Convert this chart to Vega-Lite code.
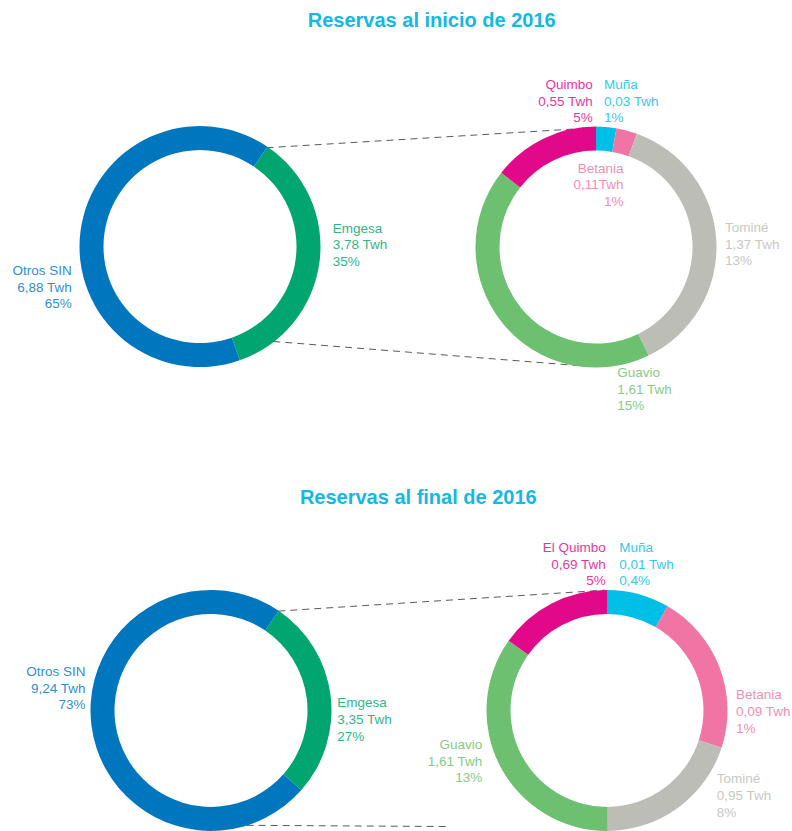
{
  "$schema": "https://vega.github.io/schema/vega-lite/v6.json",
  "width": 792,
  "height": 831,
  "autosize": {"type": "fit", "contains": "padding"},
  "padding": 0,
  "background": "white",
  "config": {"view": {"stroke": null}, "font": "Liberation Sans"},
  "datasets": {
    "segments": [
      {"donut": "inicio-total", "plant": "Emgesa", "seq": 1, "share": 35.2, "x": 200, "y": 247.5},
      {"donut": "inicio-total", "plant": "Otros SIN", "seq": 2, "share": 64.8, "x": 200, "y": 247.5},
      {"donut": "inicio-emgesa", "plant": "Muña", "seq": 1, "share": 2.7, "x": 596, "y": 248},
      {"donut": "inicio-emgesa", "plant": "Betania", "seq": 2, "share": 2.8, "x": 596, "y": 248},
      {"donut": "inicio-emgesa", "plant": "Tominé", "seq": 3, "share": 37.3, "x": 596, "y": 248},
      {"donut": "inicio-emgesa", "plant": "Guavio", "seq": 4, "share": 42.8, "x": 596, "y": 248},
      {"donut": "inicio-emgesa", "plant": "Quimbo", "seq": 5, "share": 14.4, "x": 596, "y": 248},
      {"donut": "final-total", "plant": "Emgesa", "seq": 1, "share": 27.0, "x": 211, "y": 713},
      {"donut": "final-total", "plant": "Otros SIN", "seq": 2, "share": 73.0, "x": 211, "y": 713},
      {"donut": "final-emgesa", "plant": "Muña", "seq": 1, "share": 8.4, "x": 607, "y": 713},
      {"donut": "final-emgesa", "plant": "Betania", "seq": 2, "share": 21.6, "x": 607, "y": 713},
      {"donut": "final-emgesa", "plant": "Tominé", "seq": 3, "share": 19.9, "x": 607, "y": 713},
      {"donut": "final-emgesa", "plant": "Guavio", "seq": 4, "share": 34.9, "x": 607, "y": 713},
      {"donut": "final-emgesa", "plant": "Quimbo", "seq": 5, "share": 15.2, "x": 607, "y": 713}
    ],
    "labels": [
      {"plant": "Otros SIN", "side": "right", "x": 71.7, "y": 276, "label": "Otros SIN\n6,88 Twh\n65%"},
      {"plant": "Quimbo", "side": "right", "x": 592.7, "y": 89.3, "label": "Quimbo\n0,55 Twh\n5%"},
      {"plant": "Betania", "side": "right", "x": 623.5, "y": 173.3, "label": "Betania\n0,11Twh\n1%"},
      {"plant": "Otros SIN", "side": "right", "x": 85.5, "y": 678.3, "label": "Otros SIN\n9,24 Twh\n73%"},
      {"plant": "Quimbo", "side": "right", "x": 605.7, "y": 554, "label": "El Quimbo\n0,69 Twh\n5%"},
      {"plant": "Guavio", "side": "right", "x": 482.3, "y": 751.7, "label": "Guavio\n1,61 Twh\n13%"},
      {"plant": "Emgesa", "side": "left", "x": 332.7, "y": 233.5, "label": "Emgesa\n3,78 Twh\n35%"},
      {"plant": "Muña", "side": "left", "x": 604, "y": 89.3, "label": "Muña\n0,03 Twh\n1%"},
      {"plant": "Tominé", "side": "left", "x": 725, "y": 232.7, "label": "Tominé\n1,37 Twh\n13%"},
      {"plant": "Guavio", "side": "left", "x": 617.3, "y": 378.3, "label": "Guavio\n1,61 Twh\n15%"},
      {"plant": "Emgesa", "side": "left", "x": 337.3, "y": 710, "label": "Emgesa\n3,35 Twh\n27%"},
      {"plant": "Muña", "side": "left", "x": 619.3, "y": 554, "label": "Muña\n0,01 Twh\n0,4%"},
      {"plant": "Betania", "side": "left", "x": 736, "y": 701.7, "label": "Betania\n0,09 Twh\n1%"},
      {"plant": "Tominé", "side": "left", "x": 716.7, "y": 786, "label": "Tominé\n0,95 Twh\n8%"}
    ],
    "connectors": [
      {"x": 266.7, "y": 148.3, "x2": 593.3, "y2": 128.3},
      {"x": 273.3, "y": 342.7, "x2": 596, "y2": 368.3},
      {"x": 278.3, "y": 613.3, "x2": 605, "y2": 592.3},
      {"x": 246.7, "y": 828.3, "x2": 446, "y2": 829.5}
    ],
    "titles": [
      {"x": 431.7, "y": 26.7, "title": "Reservas al inicio de 2016"},
      {"x": 418.3, "y": 506, "title": "Reservas al final de 2016"}
    ]
  },
  "encoding": {
    "x": {"field": "x", "type": "quantitative", "scale": {"domain": [0, 792], "nice": false, "zero": false}, "axis": null},
    "y": {"field": "y", "type": "quantitative", "scale": {"domain": [0, 831], "nice": false, "zero": false, "reverse": true}, "axis": null}
  },
  "layer": [
    {
      "data": {"name": "connectors"},
      "mark": {"type": "rule", "strokeDash": [7, 5], "stroke": "#5A5A5A", "strokeWidth": 1},
      "encoding": {"x2": {"field": "x2"}, "y2": {"field": "y2"}}
    },
    {
      "data": {"name": "segments"},
      "transform": [{"filter": "datum.donut == 'inicio-total'"}],
      "mark": {"type": "arc", "radius": 120.5, "radius2": 96.5},
      "encoding": {
        "theta": {"field": "share", "type": "quantitative", "stack": true, "scale": {"range": [0.5934, 6.8766]}},
        "order": {"field": "seq", "type": "quantitative"},
        "color": {"field": "plant", "type": "nominal", "legend": null,
          "scale": {"domain": ["Otros SIN", "Emgesa", "Quimbo", "Muña", "Betania", "Tominé", "Guavio"],
                    "range": ["#0076BF", "#00A56F", "#E1088A", "#00BFE6", "#F075A5", "#BDBDB7", "#6CC070"]}}
      }
    },
    {
      "data": {"name": "segments"},
      "transform": [{"filter": "datum.donut == 'inicio-emgesa'"}],
      "mark": {"type": "arc", "radius": 120.5, "radius2": 96.5},
      "encoding": {
        "theta": {"field": "share", "type": "quantitative", "stack": true, "scale": {"range": [0, 6.2832]}},
        "order": {"field": "seq", "type": "quantitative"},
        "color": {"field": "plant", "type": "nominal", "legend": null}
      }
    },
    {
      "data": {"name": "segments"},
      "transform": [{"filter": "datum.donut == 'final-total'"}],
      "mark": {"type": "arc", "radius": 120.5, "radius2": 96.5},
      "encoding": {
        "theta": {"field": "share", "type": "quantitative", "stack": true, "scale": {"range": [0.5969, 6.8801]}},
        "order": {"field": "seq", "type": "quantitative"},
        "color": {"field": "plant", "type": "nominal", "legend": null}
      }
    },
    {
      "data": {"name": "segments"},
      "transform": [{"filter": "datum.donut == 'final-emgesa'"}],
      "mark": {"type": "arc", "radius": 120.5, "radius2": 96.5},
      "encoding": {
        "theta": {"field": "share", "type": "quantitative", "stack": true, "scale": {"range": [0, 6.2832]}},
        "order": {"field": "seq", "type": "quantitative"},
        "color": {"field": "plant", "type": "nominal", "legend": null}
      }
    },
    {
      "data": {"name": "labels"},
      "transform": [{"filter": "datum.side == 'right'"}],
      "mark": {"type": "text", "align": "right", "baseline": "alphabetic", "fontSize": 13.5, "lineHeight": 16.7, "lineBreak": "\n", "opacity": 0.82},
      "encoding": {
        "text": {"field": "label", "type": "nominal"},
        "color": {"field": "plant", "type": "nominal", "legend": null}
      }
    },
    {
      "data": {"name": "labels"},
      "transform": [{"filter": "datum.side == 'left'"}],
      "mark": {"type": "text", "align": "left", "baseline": "alphabetic", "fontSize": 13.5, "lineHeight": 16.7, "lineBreak": "\n", "opacity": 0.82},
      "encoding": {
        "text": {"field": "label", "type": "nominal"},
        "color": {"field": "plant", "type": "nominal", "legend": null}
      }
    },
    {
      "data": {"name": "titles"},
      "mark": {"type": "text", "align": "center", "baseline": "alphabetic", "fontSize": 20, "fontWeight": "bold", "color": "#13B8E4"},
      "encoding": {"text": {"field": "title", "type": "nominal"}}
    }
  ],
  "resolve": {"scale": {"theta": "independent"}}
}
